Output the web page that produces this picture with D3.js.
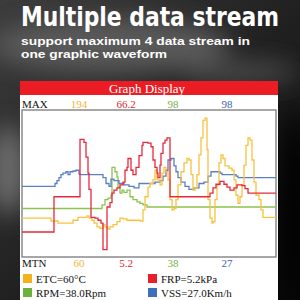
<!DOCTYPE html>
<html>
  <head>
    <script src="https://d3js.org/d3.v7.min.js"></script>
    <style>
      body { margin: 0; background: #111; }
      svg { display: block; }
    </style>
  </head>
  <body>
    <svg width="300" height="300"></svg>

    <script type="text/javascript">
      // stream values in percent of the display scale, [sample, value]
      var etcData = [
        [0, 26.5], [29, 24.5], [36, 23], [49, 23], [51, 25], [56, 27], [65, 28],
        [67, 26.5], [70, 25], [72, 23], [75, 20.5], [78, 19.5], [81, 22], [83, 20.5],
        [86, 19], [88, 20.5], [91, 22], [95, 24], [98, 26.5], [101, 26], [105, 25],
        [118, 24.5], [121, 32], [123, 41], [126, 47.5], [128, 50], [131, 52.5],
        [133, 59], [135, 52.5], [138, 49], [140, 57], [142, 61], [144, 58], [146, 52.5],
        [148, 39], [150, 32], [152, 33], [154, 39], [156, 49], [159, 58], [162, 64],
        [165, 67], [167, 66], [169, 56], [171, 45.5], [173, 47], [175, 56], [177, 69.5],
        [179, 81], [181, 93], [183, 94.5], [185, 73], [186, 39], [188, 26.5], [190, 23],
        [191, 24], [193, 39], [195, 49], [197, 64], [199, 69.5], [201, 67], [203, 62],
        [207, 60.5], [210, 59], [212, 52.5], [214, 42], [216, 36.5], [218, 41],
        [220, 49], [222, 62.5], [224, 76], [226, 81], [228, 79.5], [230, 66], [232, 51],
        [234, 42], [237, 39], [239, 32], [241, 27], [254, 27]
      ];
      var frpData = [
        [0, 17], [32, 41], [58, 80], [62, 78], [64, 68], [66, 57], [67, 46], [69, 27],
        [73, 26.5], [76, 25], [79, 23], [81, 5], [85, 34], [88, 37], [90, 43.5],
        [92, 45.5], [95, 47], [98, 49], [101, 51], [103, 59], [105, 61], [106, 67],
        [109, 59], [111, 56], [114, 61], [117, 69], [120, 76], [121, 78], [126, 77.5],
        [129, 75], [131, 66], [133, 61], [135, 57], [136, 54], [138, 62.5], [139, 70.5],
        [141, 77.5], [143, 79.5], [145, 81], [148, 41], [188, 43.5], [191, 47],
        [194, 49.5], [198, 51.5], [202, 49.5], [205, 47.5], [208, 45.5], [212, 47],
        [215, 49], [220, 48.5], [223, 46.5], [226, 43.5], [254, 43.5]
      ];
      var rpmData = [
        [0, 33], [78, 33], [80, 35.5], [83, 39], [86, 40], [89, 42], [90, 61], [92, 61],
        [93, 58], [95, 54.5], [96, 47.5], [98, 43.5], [100, 45.5], [102, 44],
        [105, 45.5], [108, 41], [111, 39], [115, 37.5], [118, 36.5], [121, 35.5],
        [125, 34], [254, 34]
      ];
      var vssData = [
        [0, 48], [33, 50], [35, 52], [37, 54], [39, 56], [41, 57], [44, 58], [46, 56],
        [48, 58], [51, 58.5], [54, 59], [57, 56.5], [58, 56], [81, 54], [84, 50],
        [87, 48], [89, 53], [92, 52], [97, 50], [102, 49], [107, 48], [112, 47],
        [117, 50], [121, 50], [133, 51], [138, 52], [141, 55], [144, 59], [146, 66],
        [149, 67], [152, 62], [154, 58], [156, 54], [159, 51], [163, 48], [167, 46],
        [172, 47], [177, 50], [182, 51], [186, 55], [189, 58], [198, 57], [200, 56],
        [214, 55], [216, 54], [254, 54]
      ];

      var streamNames = ["ETC", "FRP", "RPM", "VSS"];
      var maxLabels = ["194", "66.2", "98", "98"];
      var minLabels = ["60", "5.2", "38", "27"];
      var legendLabels = ["ETC=60°C", "FRP=5.2kPa", "RPM=38.0Rpm", "VSS=27.0Km/h"];

      var lineColors = { ETC: "#f8c23e", FRP: "#e8283a", RPM: "#8cc34f", VSS: "#5a7fc4" };
      var textColors = { ETC: "#f4b43a", FRP: "#e0262e", RPM: "#74b443", VSS: "#3b63b2" };
      var boxColors = { ETC: "#f5b21c", FRP: "#e8202a", RPM: "#6bb23c", VSS: "#3f6fbf" };
      var streams = { ETC: etcData, FRP: frpData, RPM: rpmData, VSS: vssData };
      var serif = "'Liberation Serif', 'DejaVu Serif', serif";

      var svg = d3.select("svg");

      // blurred photo background
      var defs = svg.append("defs");
      defs.append("filter").attr("id", "blur")
        .append("feGaussianBlur").attr("stdDeviation", 12);
      var bg = defs.append("linearGradient").attr("id", "bg")
        .attr("x1", 0).attr("y1", 0).attr("x2", 1).attr("y2", 1);
      bg.append("stop").attr("offset", "0%").attr("stop-color", "#3c3c3c");
      bg.append("stop").attr("offset", "60%").attr("stop-color", "#1c1c1c");
      bg.append("stop").attr("offset", "100%").attr("stop-color", "#050505");
      svg.append("rect").attr("width", 300).attr("height", 300).attr("fill", "url(#bg)");
      var blobs = svg.append("g").attr("filter", "url(#blur)");
      blobs.append("ellipse").attr("cx", 110).attr("cy", 45).attr("rx", 120).attr("ry", 28)
        .attr("fill", "#5a5a5a");
      blobs.append("ellipse").attr("cx", 8).attr("cy", 170).attr("rx", 18).attr("ry", 45)
        .attr("fill", "#6e6e6e");
      blobs.append("ellipse").attr("cx", 240).attr("cy", 72).attr("rx", 60).attr("ry", 10)
        .attr("fill", "#505050");
      blobs.append("ellipse").attr("cx", 295).attr("cy", 200).attr("rx", 15).attr("ry", 90)
        .attr("fill", "#000");

      // headline
      svg.append("text").attr("x", 21).attr("y", 26)
        .attr("textLength", 258).attr("lengthAdjust", "spacingAndGlyphs")
        .attr("font-family", "'DejaVu Sans Condensed', 'DejaVu Sans', sans-serif")
        .attr("font-weight", "bold").attr("font-size", 26).attr("fill", "#fff")
        .text("Multiple data stream");
      svg.append("text").attr("x", 21).attr("y", 45)
        .attr("textLength", 229).attr("lengthAdjust", "spacingAndGlyphs")
        .attr("font-family", "'Liberation Sans', Arial, sans-serif")
        .attr("font-weight", "bold").attr("font-size", 11.5).attr("fill", "#fff")
        .text("support maximum 4 data stream in");
      svg.append("text").attr("x", 21).attr("y", 58)
        .attr("textLength", 146).attr("lengthAdjust", "spacingAndGlyphs")
        .attr("font-family", "'Liberation Sans', Arial, sans-serif")
        .attr("font-weight", "bold").attr("font-size", 11.5).attr("fill", "#fff")
        .text("one graphic waveform");

      // panel
      svg.append("rect").attr("x", 20).attr("y", 81).attr("width", 258).attr("height", 219)
        .attr("fill", "#fff");
      svg.append("rect").attr("x", 20).attr("y", 81).attr("width", 258).attr("height", 14)
        .attr("fill", "#ec1c24");
      svg.append("text").attr("x", 147).attr("y", 93).attr("text-anchor", "middle")
        .attr("font-family", serif).attr("font-size", 13).attr("fill", "#fff")
        .text("Graph Display");

      var labelPos = { ETC: 79, FRP: 126, RPM: 173, VSS: 227 };

      svg.append("text").attr("x", 22).attr("y", 108)
        .attr("font-family", serif).attr("font-size", 11).attr("fill", "#111").text("MAX");
      svg.append("text").attr("x", 22).attr("y", 267)
        .attr("font-family", serif).attr("font-size", 11).attr("fill", "#111").text("MTN");

      svg.selectAll(".maxl").data(streamNames).enter().append("text")
        .attr("class", "maxl")
        .attr("x", (d) => labelPos[d]).attr("y", 108).attr("text-anchor", "middle")
        .attr("font-family", serif).attr("font-size", 11)
        .attr("fill", (d) => textColors[d])
        .text((d, i) => maxLabels[i]);
      svg.selectAll(".minl").data(streamNames).enter().append("text")
        .attr("class", "minl")
        .attr("x", (d) => labelPos[d]).attr("y", 267).attr("text-anchor", "middle")
        .attr("font-family", serif).attr("font-size", 11)
        .attr("fill", (d) => textColors[d])
        .text((d, i) => minLabels[i]);

      // plot
      var xScale = d3.scaleLinear().domain([0, 254]).range([22, 276]);
      var yScale = d3.scaleLinear().domain([0, 100]).range([257, 110]);

      svg.append("rect").attr("x", 22).attr("y", 110).attr("width", 254).attr("height", 147)
        .attr("fill", "#fff").attr("stroke", "#8a8a8a").attr("stroke-width", 1.5);

      var lineGenerator = d3.line()
        .x((d) => xScale(d[0]))
        .y((d) => yScale(d[1]))
        .curve(d3.curveStepAfter);

      ["RPM", "VSS", "ETC", "FRP"].forEach((k) => {
        svg.append("path")
          .attr("fill", "none")
          .attr("stroke", lineColors[k])
          .attr("stroke-width", 1.3)
          .attr("d", lineGenerator(streams[k]));
      });

      // legend
      var legend = svg.selectAll(".leg").data(streamNames).enter().append("g")
        .attr("class", "leg")
        .attr("transform", (d, i) => {
          return "translate(" + (i % 2 === 0 ? 23 : 148) + "," + (i < 2 ? 274 : 288) + ")";
        });
      legend.append("rect").attr("width", 9).attr("height", 9)
        .attr("fill", (d) => boxColors[d]);
      legend.append("text").attr("x", 13).attr("y", 9)
        .attr("font-family", serif).attr("font-size", 11).attr("fill", "#111")
        .text((d, i) => legendLabels[i]);
    </script>
  </body>
</html>
